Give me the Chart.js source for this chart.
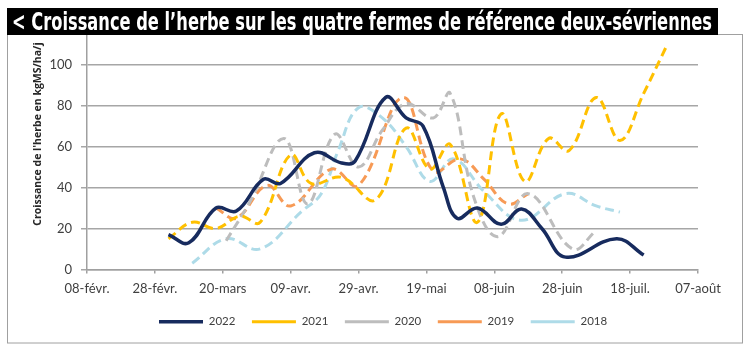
<!DOCTYPE html>
<html>
<head>
<meta charset="utf-8">
<script src="https://cdn.jsdelivr.net/npm/chart.js@4"></script>
<style>
  body { margin: 0; background: #fff; }
</style>
</head>
<body>
<canvas id="grassChart" width="747" height="347"></canvas>
<script>
// jours comptés depuis le 08-févr.
const xLabels = ['08-févr.', '28-févr.', '20-mars', '09-avr.', '29-avr.', '19-mai', '08-juin', '28-juin', '18-juil.', '07-août'];
const yTicks = [0, 20, 40, 60, 80, 100];

const days2022 = [24, 30, 38, 44, 52, 57, 67, 75, 79, 88, 94, 99, 105, 109, 115, 122, 128, 134, 141, 156, 164];
const vals2022 = [17, 13, 30, 28.5, 44, 42, 57, 52, 53, 84, 74, 70, 40, 25, 30, 22, 29.5, 20, 6, 15, 7];

const days2021 = [24, 31, 38, 45, 51, 60, 66, 75, 85, 94, 101, 107, 115, 122, 129, 136, 142, 150, 157, 164, 171];
const vals2021 = [15, 23, 20, 26, 23, 56, 42, 45, 34, 69, 49, 61, 23, 76, 43, 64, 58, 84, 63, 86, 110];

const days2020 = [41, 48, 58, 65, 73, 80, 87, 94, 102, 107, 114, 121, 130, 143, 150];
const vals2020 = [14, 33, 64, 32, 66, 50, 68, 81, 74, 86, 35, 16, 37, 10, 19];

const days2019 = [38, 44, 53, 60, 72, 80, 93, 102, 110, 117, 124, 130];
const vals2019 = [30, 25, 41, 31, 49, 41, 84, 48, 54, 44, 32, 37];

const days2018 = [31, 41, 51, 63, 69, 74, 80, 87, 94, 101, 108, 117, 128, 141, 150, 157];
const vals2018 = [3, 15, 10, 28, 37, 58, 79, 74, 60, 43, 54, 38, 24, 37, 31, 28];

function pts(days, vals) {
  return days.map((d, i) => ({ x: d, y: vals[i] }));
}

const decor = {
  id: 'decor',
  afterLayout(chart) {
    // légende placée sous l'axe, comme dans l'original
    const lg = chart.legend;
    const pad = lg.options.labels.padding;
    const w = lg.width, h = lg.height;
    lg.left = 159 - pad;
    lg.right = lg.left + w;
    lg.top = 322 - 6 - pad;
    lg.bottom = lg.top + h;
  },
  beforeDraw(chart) {
    const ctx = chart.ctx;
    ctx.save();
    ctx.fillStyle = '#fff';
    ctx.fillRect(0, 0, chart.width, chart.height);
    ctx.strokeStyle = '#a0a0a0';
    ctx.lineWidth = 1;
    ctx.strokeRect(7.5, 34.5, 735, 308.5);
    ctx.restore();
  },
  afterDraw(chart) {
    const ctx = chart.ctx;
    ctx.save();
    // bandeau titre
    ctx.fillStyle = '#000';
    ctx.fillRect(7, 8, 711, 27);
    const title = '< Croissance de l\u2019herbe sur les quatre fermes de référence deux-sévriennes';
    ctx.font = 'bold 24px "Liberation Sans Narrow", "DejaVu Sans Condensed", sans-serif';
    const w = ctx.measureText(title).width;
    ctx.translate(12, 30);
    ctx.scale(700 / w, 1);
    ctx.fillStyle = '#fff';
    ctx.textBaseline = 'alphabetic';
    ctx.fillText(title, 0, 0);
    ctx.restore();

    // titre axe Y
    ctx.save();
    ctx.translate(38, 134);
    ctx.rotate(-Math.PI / 2);
    ctx.textAlign = 'center';
    ctx.textBaseline = 'middle';
    ctx.font = 'bold 10.5px "Open Sans", sans-serif';
    ctx.fillStyle = '#262626';
    ctx.fillText('Croissance de l\'herbe en kgMS/ha/j', 0, 0);
    ctx.restore();
  }
};

const common = { pointRadius: 0, tension: 0.4, fill: false, borderCapStyle: 'butt' };

const ctx = document.getElementById('grassChart').getContext('2d');
const grassChart = new Chart(ctx, {
  type: 'line',
  data: {
    datasets: [
      { ...common, label: '2022', data: pts(days2022, vals2022), borderColor: '#172b5e', backgroundColor: '#172b5e', borderWidth: 3.5 },
      { ...common, label: '2021', data: pts(days2021, vals2021), borderColor: '#ffc000', backgroundColor: '#ffc000', borderWidth: 3, borderDash: [9, 5] },
      { ...common, label: '2020', data: pts(days2020, vals2020), borderColor: '#bdbdbd', backgroundColor: '#bdbdbd', borderWidth: 3, borderDash: [9, 5] },
      { ...common, label: '2019', data: pts(days2019, vals2019), borderColor: '#f79a55', backgroundColor: '#f79a55', borderWidth: 3, borderDash: [9, 5] },
      { ...common, label: '2018', data: pts(days2018, vals2018), borderColor: '#aedbe8', backgroundColor: '#aedbe8', borderWidth: 3, borderDash: [9, 5] }
    ]
  },
  options: {
    responsive: false,
    animation: false,
    layout: { padding: { left: 10, right: 49, top: 34, bottom: 4 } },
    plugins: {
      title: { display: false },
      tooltip: { enabled: false },
      legend: {
        position: 'bottom',
        align: 'start',
        fullSize: false,
        labels: {
          usePointStyle: true,
          pointStyle: 'line',
          pointStyleWidth: 44,
          padding: 16.5,
          color: '#404040',
          font: { family: 'Lato', size: 11.5 }
        }
      }
    },
    scales: {
      x: {
        type: 'linear',
        min: 0,
        max: 180,
        ticks: {
          stepSize: 20,
          padding: 8,
          color: '#404040',
          font: { family: 'Lato', size: 13 },
          maxRotation: 0,
          callback: (v) => xLabels[Math.round(v / 20)]
        },
        grid: { drawOnChartArea: false, drawTicks: true, tickLength: 4, color: '#a0a0a0', lineWidth: 1.5 },
        border: { color: '#a0a0a0', width: 1.5 }
      },
      y: {
        min: 0,
        max: 115,
        afterFit: (scale) => { scale.width = 77; },
        afterBuildTicks: (scale) => { scale.ticks = yTicks.map(v => ({ value: v })); },
        ticks: {
          padding: 9,
          color: '#404040',
          font: { family: 'Lato', size: 13 }
        },
        grid: { color: '#a6a6a6', lineWidth: 1.5, tickLength: 6 },
        border: { color: '#a0a0a0', width: 1.5 }
      }
    }
  },
  plugins: [decor]
});
</script>
</body>
</html>
